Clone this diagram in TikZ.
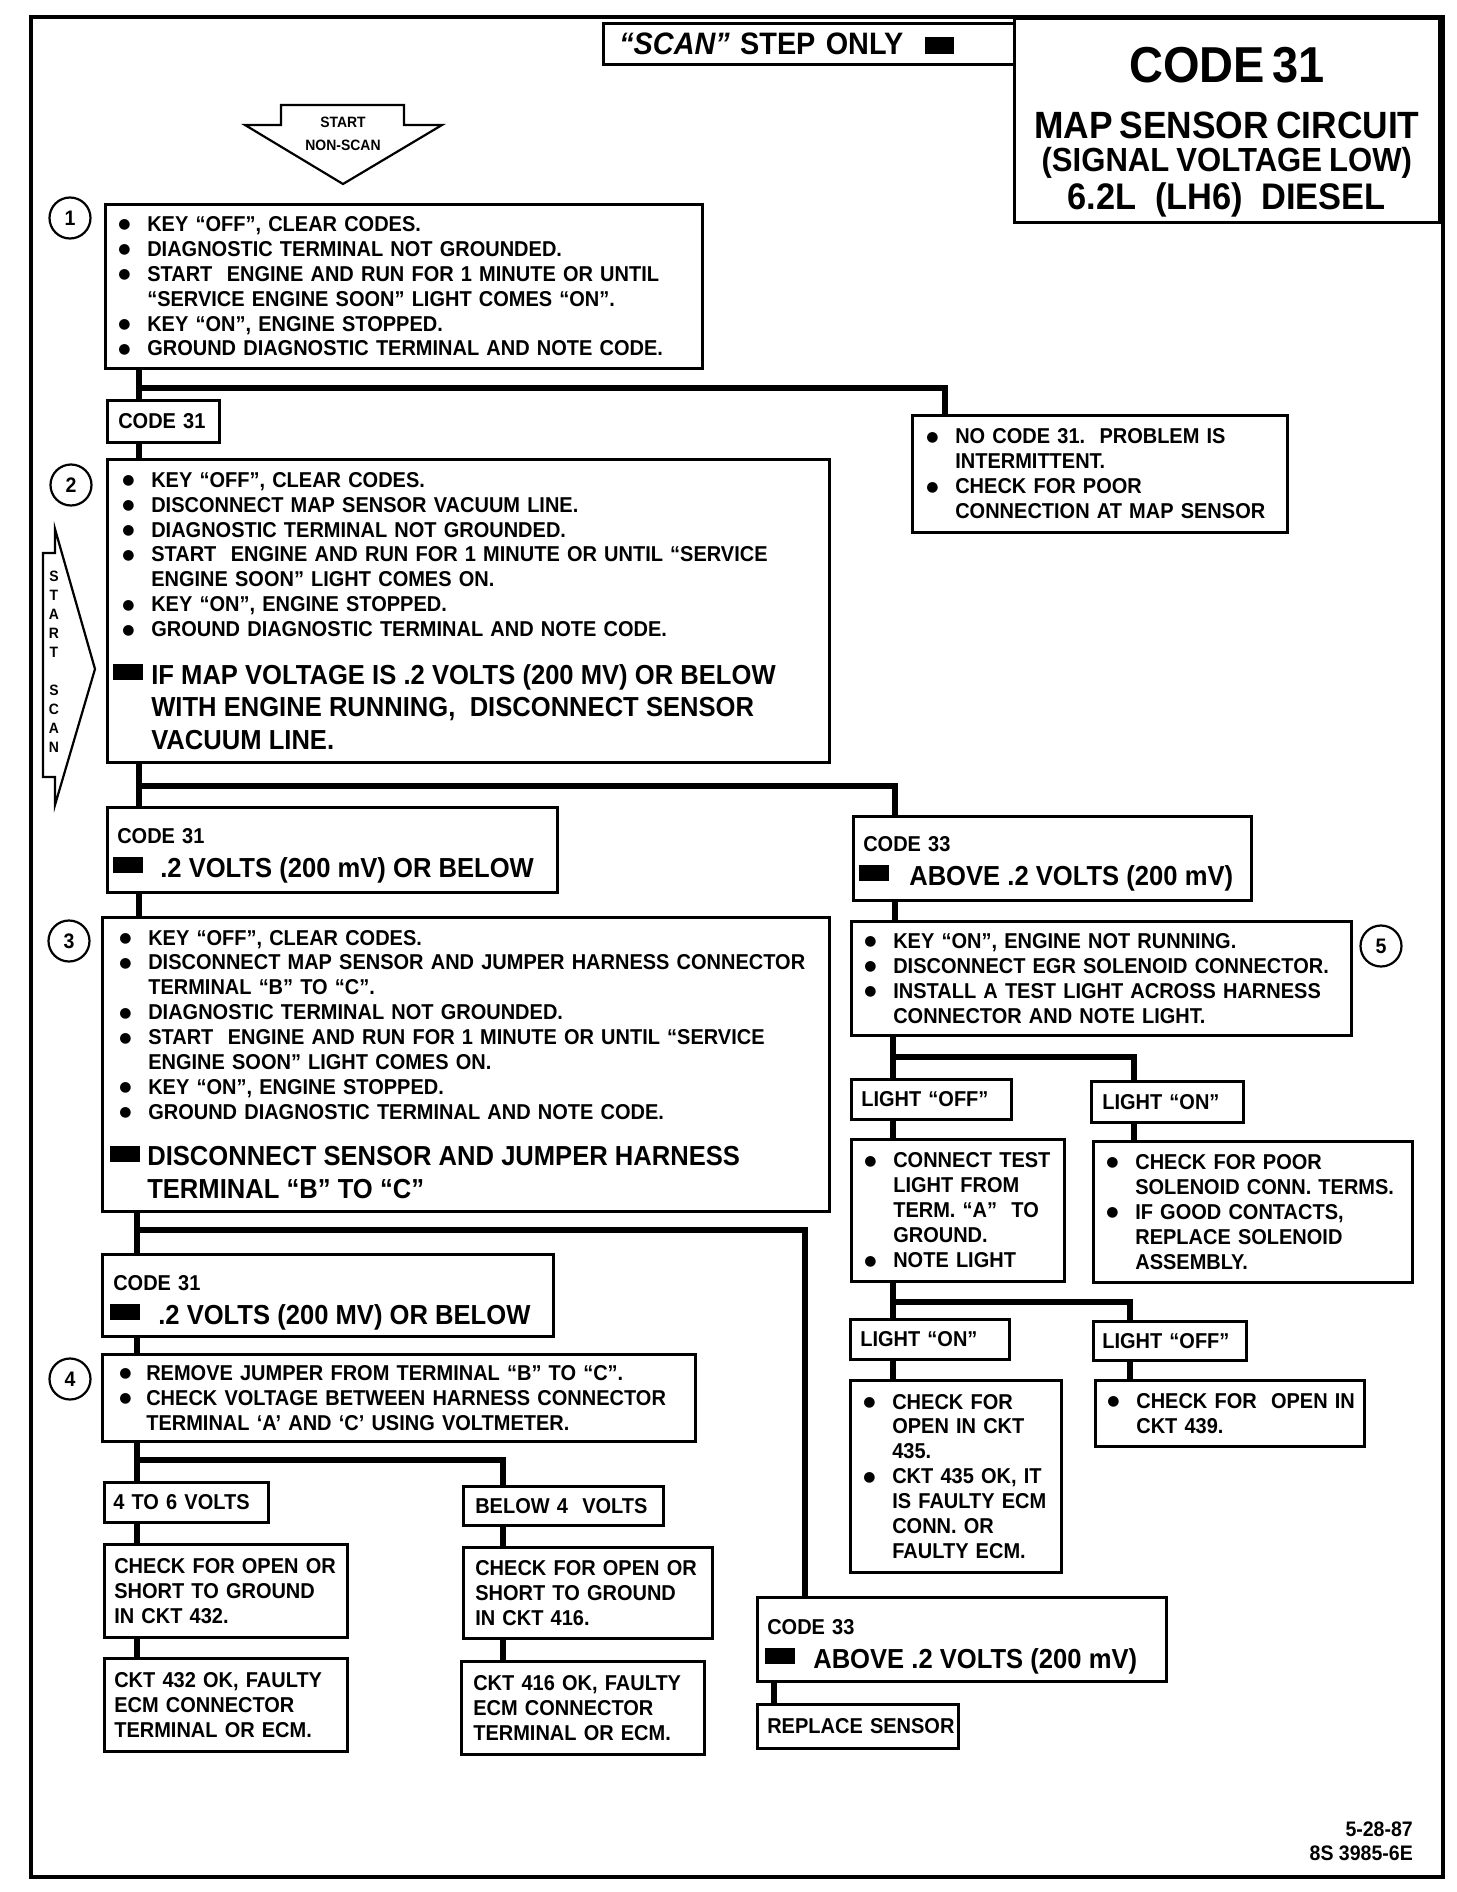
\documentclass[tikz,border=0pt]{standalone}
\usepackage{fontspec}
\setmainfont{Liberation Sans}[FakeStretch=0.93]
\newfontfamily\dotfont{DejaVu Sans}
\newcommand{\bodyfont}{\fontsize{21.5}{24.9}\selectfont\bfseries}
\newcommand{\bigfont}{\fontsize{27.5}{32.5}\selectfont\bfseries}
\newcommand{\bul}{\makebox[29pt][l]{\raisebox{2.5pt}{\dotfont\fontsize{14}{0}\selectfont ●}}}
\newcommand{\nxt}{\hspace*{29pt}}
\newcommand{\bulw}{\hspace*{9pt}\bul}
\newcommand{\nxtw}{\hspace*{38pt}}
\newcommand{\blk}{\raisebox{4pt}{\rule{30pt}{16pt}}}

\begin{document}
\begin{tikzpicture}[x=1pt, y=-1pt,
    box/.style={draw, line width=2.6pt, anchor=north west, align=left, inner xsep=0pt, inner ysep=0pt, font=\bodyfont},
    pad/.style={execute at begin node={\leftskip=#1pt\relax}},
    codebox/.style={box, text height=36pt, text depth=#1pt},
    num/.style={circle, draw, line width=2.2pt, minimum size=41pt, inner sep=0pt, font=\fontsize{21}{21}\selectfont\bfseries},
    link/.style={line width=6.5pt, line join=miter},
    frame/.style={line width=4pt},
    blockarrow/.style={draw, line width=2.2pt, line join=miter}
]
\useasboundingbox (0,0) rectangle (1456,1892);

% Frame
\draw[frame] (31,17) rectangle (1443,1877);

% Header
\node[box, pad=16, text width=411pt, minimum height=41pt, font=\fontsize{31}{31}\selectfont\bfseries] (scanonly) at (602,22) {{\itshape “SCAN”} STEP ONLY\hspace{22pt}\rule{29pt}{17pt}};
\node[box, align=center, text width=425pt, minimum height=204pt, text height=64pt, text depth=140pt] (title) at (1013,17) {%
{\fontsize{50.5}{50.5}\selectfont CODE 31\par}
{\fontsize{38}{56}\selectfont MAP SENSOR CIRCUIT\par}
{\fontsize{33.4}{33}\selectfont (SIGNAL VOLTAGE LOW)\par}
{\fontsize{37}{38}\selectfont 6.2L\enspace(LH6)\enspace DIESEL\par}};

% Start arrows
\draw[blockarrow] (281,105) -- (404,105) -- (404,125) -- (442,125) -- (343,184) -- (245,125) -- (281,125) -- cycle;
\node[font=\fontsize{15}{23}\selectfont\bfseries, align=center] (nonscan) at (343,134) {START\\NON-SCAN};
\draw[blockarrow] (43,553) -- (55,553) -- (55,529) -- (95,669) -- (55,805) -- (55,777) -- (43,777) -- cycle;
\node[font=\fontsize{15}{19}\selectfont\bfseries, align=center, inner sep=0pt] (scanlbl) at (54,662) {S\\T\\A\\R\\T\\[19pt]S\\C\\A\\N};

% Step numbers
\node[num] (n1) at (70,218) {1};
\node[num] (n2) at (71,485) {2};
\node[num] (n3) at (69,941) {3};
\node[num] (n4) at (70,1379) {4};
\node[num] (n5) at (1381,946) {5};

% Step 1
\node[box, pad=13, text width=597pt, minimum height=164pt] (s1) at (104,203) {%
\bul KEY “OFF”, CLEAR CODES.\\
\bul DIAGNOSTIC TERMINAL NOT GROUNDED.\\
\bul START\ \ ENGINE AND RUN FOR 1 MINUTE OR UNTIL\\
\nxt “SERVICE ENGINE SOON” LIGHT COMES “ON”.\\
\bul KEY “ON”, ENGINE STOPPED.\\
\bul GROUND DIAGNOSTIC TERMINAL AND NOTE CODE.};
\node[box, pad=11, text width=112pt, minimum height=42pt] (c31a) at (106,399) {CODE 31};
\node[box, pad=14, text width=375pt, minimum height=117pt] (nocode) at (911,414) {%
\bul NO CODE 31.\ \ PROBLEM IS\\
\nxt INTERMITTENT.\\
\bul CHECK FOR POOR\\
\nxt CONNECTION AT MAP SENSOR};

% Step 2
\node[box, pad=6, text width=722pt, minimum height=303pt] (s2) at (106,458) {%
\bulw KEY “OFF”, CLEAR CODES.\\
\bulw DISCONNECT MAP SENSOR VACUUM LINE.\\
\bulw DIAGNOSTIC TERMINAL NOT GROUNDED.\\
\bulw START\ \ ENGINE AND RUN FOR 1 MINUTE OR UNTIL “SERVICE\\
\nxtw ENGINE SOON” LIGHT COMES ON.\\
\bulw KEY “ON”, ENGINE STOPPED.\\
\bulw GROUND DIAGNOSTIC TERMINAL AND NOTE CODE.\par
\vspace{15pt}
\bigfont\blk\hspace{8pt}IF MAP VOLTAGE IS .2 VOLTS (200 MV) OR BELOW\\
\hspace*{38pt}WITH ENGINE RUNNING,\ \ DISCONNECT SENSOR\\
\hspace*{38pt}VACUUM LINE.\par};
\node[codebox=49, pad=6, text width=450pt, minimum height=85pt] (c31b) at (106,806) {%
\hspace*{4pt}CODE 31\par\vspace{1.5pt}
\bigfont\blk\hspace{17pt}.2 VOLTS (200 mV) OR BELOW\par};
\node[codebox=48, pad=6, text width=398pt, minimum height=84pt, text height=34pt] (c33a) at (852,815) {%
\hspace*{4pt}CODE 33\par\vspace{1.5pt}
\bigfont\blk\hspace{20pt}ABOVE .2 VOLTS (200 mV)\par};

% Step 3
\node[box, pad=8, text width=727pt, minimum height=294pt] (s3) at (101,916) {%
\bulw KEY “OFF”, CLEAR CODES.\\
\bulw DISCONNECT MAP SENSOR AND JUMPER HARNESS CONNECTOR\\
\nxtw TERMINAL “B” TO “C”.\\
\bulw DIAGNOSTIC TERMINAL NOT GROUNDED.\\
\bulw START\ \ ENGINE AND RUN FOR 1 MINUTE OR UNTIL “SERVICE\\
\nxtw ENGINE SOON” LIGHT COMES ON.\\
\bulw KEY “ON”, ENGINE STOPPED.\\
\bulw GROUND DIAGNOSTIC TERMINAL AND NOTE CODE.\par
\vspace{14pt}
\bigfont\blk\hspace{7pt}DISCONNECT SENSOR AND JUMPER HARNESS\\
\hspace*{37pt}TERMINAL “B” TO “C”\par};
\node[codebox=46, pad=8, text width=451pt, minimum height=82pt] (c31c) at (101,1253) {%
\hspace*{3pt}CODE 31\par\vspace{1.5pt}
\bigfont\blk\hspace{18pt}.2 VOLTS (200 MV) OR BELOW\par};
\node[codebox=47, pad=8, text width=409pt, minimum height=84pt, text height=37pt] (c33b) at (756,1596) {%
\hspace*{2pt}CODE 33\par\vspace{1.5pt}
\bigfont\blk\hspace{18pt}ABOVE .2 VOLTS (200 mV)\par};
\node[box, pad=10, text width=201pt, minimum height=44pt] (replace) at (756,1703) {\mbox{REPLACE SENSOR}};

% Step 4
\node[box, pad=17, text width=593pt, minimum height=87pt] (s4) at (101,1353) {%
\makebox[27pt][l]{\raisebox{2.5pt}{\dotfont\fontsize{14}{0}\selectfont ●}}REMOVE JUMPER FROM TERMINAL “B” TO “C”.\\
\makebox[27pt][l]{\raisebox{2.5pt}{\dotfont\fontsize{14}{0}\selectfont ●}}CHECK VOLTAGE BETWEEN HARNESS CONNECTOR\\
\hspace*{27pt}TERMINAL ‘A’ AND ‘C’ USING VOLTMETER.};
\node[box, pad=9, text width=164pt, minimum height=40pt] (v46) at (103,1481) {4 TO 6 VOLTS};
\node[box, pad=12, text width=200pt, minimum height=39pt] (below4) at (462,1485) {BELOW 4\ \ VOLTS};
\node[box, pad=10, text width=243pt, minimum height=93pt] (chk432) at (103,1543) {%
CHECK FOR OPEN OR\\ SHORT TO GROUND\\ IN CKT 432.};
\node[box, pad=12, text width=249pt, minimum height=91pt] (chk416) at (462,1546) {%
CHECK FOR OPEN OR\\ SHORT TO GROUND\\ IN CKT 416.};
\node[box, pad=10, text width=243pt, minimum height=93pt] (ok432) at (103,1657) {%
CKT 432 OK, FAULTY\\ ECM CONNECTOR\\ TERMINAL OR ECM.};
\node[box, pad=12, text width=243pt, minimum height=93pt] (ok416) at (460,1660) {%
CKT 416 OK, FAULTY\\ ECM CONNECTOR\\ TERMINAL OR ECM.};

% Step 5
\node[box, pad=13, text width=500pt, minimum height=114pt] (s5) at (850,920) {%
\bul KEY “ON”, ENGINE NOT RUNNING.\\
\bul DISCONNECT EGR SOLENOID CONNECTOR.\\
\bul INSTALL A TEST LIGHT ACROSS HARNESS\\
\nxt CONNECTOR AND NOTE LIGHT.};
\node[box, pad=10, text width=160pt, minimum height=40pt] (loff1) at (850,1078) {LIGHT “OFF”};
\node[box, pad=11, text width=152pt, minimum height=41pt] (lon1) at (1090,1080) {LIGHT “ON”};
\node[box, pad=13, text width=213pt, minimum height=142pt] (connect) at (850,1138) {%
\bul CONNECT TEST\\
\nxt LIGHT FROM\\
\nxt TERM. “A”\ \ TO\\
\nxt GROUND.\\
\bul NOTE LIGHT};
\node[box, pad=13, text width=319pt, minimum height=141pt] (poor) at (1092,1140) {%
\bul CHECK FOR POOR\\
\nxt SOLENOID CONN. TERMS.\\
\bul IF GOOD CONTACTS,\\
\nxt REPLACE SOLENOID\\
\nxt ASSEMBLY.};
\node[box, pad=10, text width=159pt, minimum height=40pt] (lon2) at (849,1318) {LIGHT “ON”};
\node[box, pad=9, text width=153pt, minimum height=39pt] (loff2) at (1092,1320) {LIGHT “OFF”};
\node[box, pad=13, text width=211pt, minimum height=192pt] (chk435) at (849,1379) {%
\bul CHECK FOR\\
\nxt OPEN IN CKT\\
\nxt 435.\\
\bul CKT 435 OK, IT\\
\nxt IS FAULTY ECM\\
\nxt CONN. OR\\
\nxt FAULTY ECM.};
\node[box, pad=12, text width=269pt, minimum height=66pt] (chk439) at (1094,1379) {%
\bul CHECK FOR\ \ OPEN IN\\
\nxt CKT 439.};

% Stamp
\node[anchor=north east, align=right, inner sep=0pt, font=\fontsize{21}{24}\selectfont\bfseries] (stamp) at (1413,1822) {5-28-87\\8S 3985-6E};

% Connectors
\coordinate (j1) at (139,388);
\coordinate (j1r) at (945,388);
\draw[link] (j1 |- s1.south) -- (j1 |- c31a.north);
\draw[link] (j1) -- (j1r) -- (j1r |- nocode.north);
\draw[link] (j1 |- c31a.south) -- (j1 |- s2.north);

\coordinate (j2) at (139,786);
\coordinate (j2r) at (895,786);
\draw[link] (j2 |- s2.south) -- (j2 |- c31b.north);
\draw[link] (j2) -- (j2r) -- (j2r |- c33a.north);
\draw[link] (j2 |- c31b.south) -- (j2 |- s3.north);
\draw[link] (j2r |- c33a.south) -- (j2r |- s5.north);

\coordinate (j3) at (137,1230);
\coordinate (j3r) at (805,1230);
\draw[link] (j3 |- s3.south) -- (j3 |- c31c.north);
\draw[link] (j3) -- (j3r) -- (j3r |- c33b.north);
\draw[link] (j3 |- c31c.south) -- (j3 |- s4.north);
\coordinate (j7) at (774,1690);
\draw[link] (j7 |- c33b.south) -- (j7 |- replace.north);

\coordinate (j4) at (137,1460);
\coordinate (j4r) at (503,1460);
\draw[link] (j4 |- s4.south) -- (j4 |- v46.north);
\draw[link] (j4) -- (j4r) -- (j4r |- below4.north);
\draw[link] (j4 |- v46.south) -- (j4 |- chk432.north);
\draw[link] (j4 |- chk432.south) -- (j4 |- ok432.north);
\draw[link] (j4r |- below4.south) -- (j4r |- chk416.north);
\draw[link] (j4r |- chk416.south) -- (j4r |- ok416.north);

\coordinate (j5) at (893,1057);
\coordinate (j5r) at (1134,1057);
\draw[link] (j5 |- s5.south) -- (j5 |- loff1.north);
\draw[link] (j5) -- (j5r) -- (j5r |- lon1.north);
\draw[link] (j5 |- loff1.south) -- (j5 |- connect.north);
\draw[link] (j5r |- lon1.south) -- (j5r |- poor.north);

\coordinate (j6) at (893,1302);
\coordinate (j6r) at (1130,1302);
\draw[link] (j6 |- connect.south) -- (j6 |- lon2.north);
\draw[link] (j6) -- (j6r) -- (j6r |- loff2.north);
\draw[link] (j6 |- lon2.south) -- (j6 |- chk435.north);
\draw[link] (j6r |- loff2.south) -- (j6r |- chk439.north);

\end{tikzpicture}
\end{document}
